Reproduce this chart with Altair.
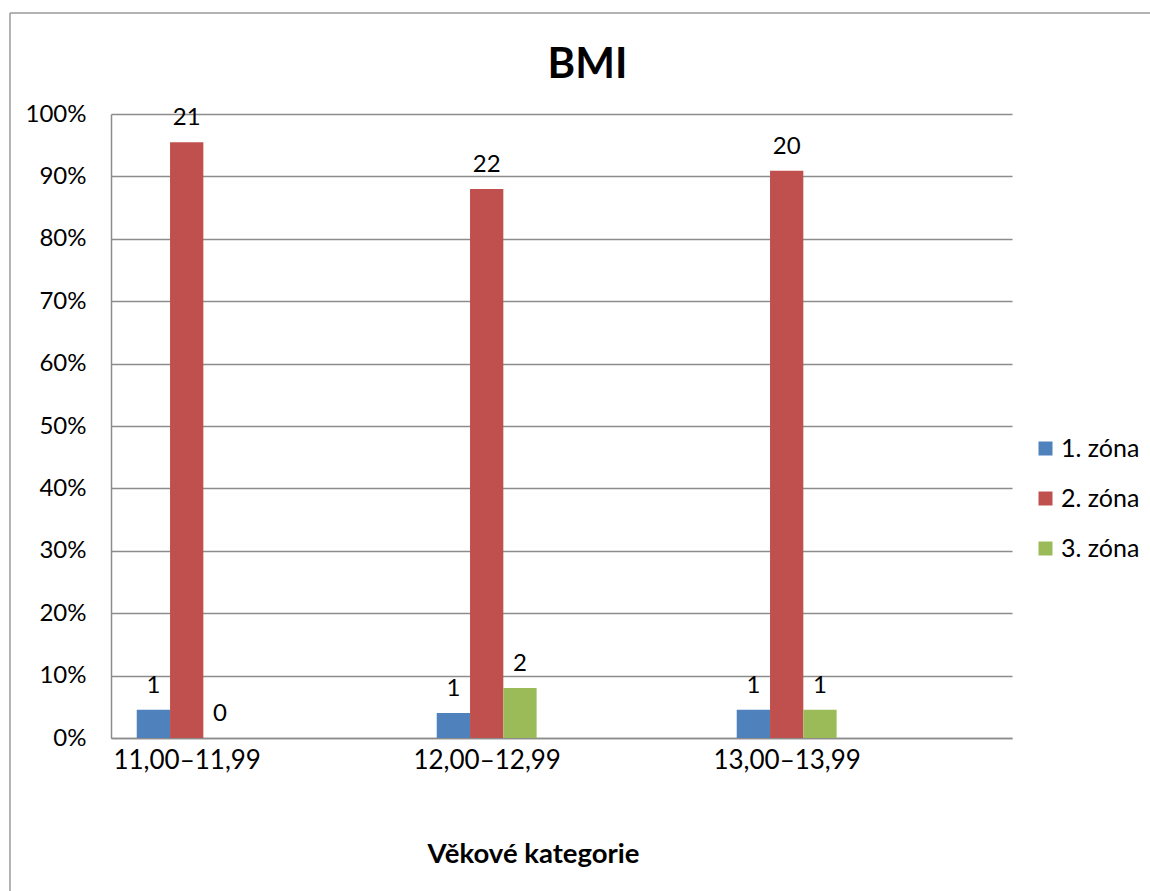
import altair as alt
import pandas as pd

categories = ["11,00–11,99", "12,00–12,99", "13,00–13,99"]
zones = ["1. zóna", "2. zóna", "3. zóna"]
zone1 = [1, 1, 1]
zone2 = [21, 22, 20]
zone3 = [0, 2, 1]
colors = ["#4F81BD", "#C0504D", "#9BBB59"]

rows = []
for si, (z, vals) in enumerate(zip(zones, [zone1, zone2, zone3])):
    for ci, (c, v) in enumerate(zip(categories, vals)):
        rows.append({"category": c, "ci": ci, "zone": z, "si": si, "count": v})
df = pd.DataFrame(rows)

FONT = "Lato"
GRID = "#8c8c8c"
label_expr = "[" + ",".join(f"'{c}'" for c in categories) + "][datum.value]"

base = alt.Chart(df).transform_joinaggregate(
    total="sum(count)", groupby=["category"]
).transform_calculate(
    pct="datum.count / datum.total",
    xc="datum.ci + (datum.si - 1) * 0.111",
    x0="datum.xc - 0.0555",
    x1="datum.xc + 0.0555",
)

xscale = alt.Scale(domain=[-0.2523, 2.7511], nice=False, zero=False)
yscale = alt.Scale(domain=[0, 1], nice=False)

bars = base.mark_bar().encode(
    x=alt.X(
        "x0:Q",
        scale=xscale,
        axis=alt.Axis(
            values=[0, 1, 2],
            labelExpr=label_expr,
            title="Věkové kategorie",
            grid=False,
            ticks=False,
            domain=True,
            domainColor=GRID,
            domainWidth=1.5,
            labelFont=FONT,
            labelFontSize=26,
            labelColor="black",
            labelPadding=9,
            labelFlush=False,
            titleFont=FONT,
            titleFontSize=27.5,
            titleFontWeight="bold",
            titleColor="black",
            titleX=422,
            titleY=124,
            titleBaseline="alphabetic",
        ),
    ),
    x2="x1:Q",
    y=alt.Y(
        "pct:Q",
        scale=yscale,
        axis=alt.Axis(
            format=".0%",
            values=[i / 10 for i in range(11)],
            title=None,
            ticks=False,
            grid=True,
            gridColor=GRID,
            gridWidth=1.5,
            domainColor=GRID,
            domainWidth=1.5,
            labelFont=FONT,
            labelFontSize=24,
            labelColor="black",
            labelPadding=25,
        ),
    ),
    y2=alt.datum(0),
    color=alt.Color(
        "zone:N",
        scale=alt.Scale(domain=zones, range=colors),
        legend=alt.Legend(
            title=None,
            orient="none",
            legendX=922,
            legendY=322,
            symbolType="square",
            symbolSize=196,
            symbolStrokeWidth=0,
            labelFont=FONT,
            labelFontSize=25,
            labelColor="black",
            labelOffset=3,
            rowPadding=24,
            padding=0,
        ),
    ),
)

labels = base.mark_text(
    font=FONT, fontSize=24, baseline="alphabetic", dy=-17, color="black"
).encode(
    x=alt.X("xc:Q", scale=xscale),
    y=alt.Y("pct:Q", scale=yscale),
    text="count:Q",
)

dummy = alt.Data(values=[{"a": 0}])
frame_left = alt.Chart(dummy).mark_rule(color="#9a9a9a", strokeWidth=1.5).encode(
    x=alt.value(-101), y=alt.value(-101), y2=alt.value(800)
)
frame_top = alt.Chart(dummy).mark_rule(color="#9a9a9a", strokeWidth=1.5).encode(
    x=alt.value(-101), x2=alt.value(1060), y=alt.value(-101)
)

chart = alt.layer(frame_left, frame_top, bars, labels).properties(
    width=901,
    height=624,
    title=alt.TitleParams(
        "BMI",
        font=FONT,
        fontSize=42,
        fontWeight="bold",
        color="black",
        anchor="middle",
        frame="group",
        baseline="alphabetic",
        dx=26,
        offset=-108,
    ),
    autosize=alt.AutoSizeParams(type="none"),
    padding={"left": 111, "top": 114, "right": 138, "bottom": 153},
).configure_view(stroke=None)

chart.save("out.html", embed_options={"renderer": "svg", "actions": False})
